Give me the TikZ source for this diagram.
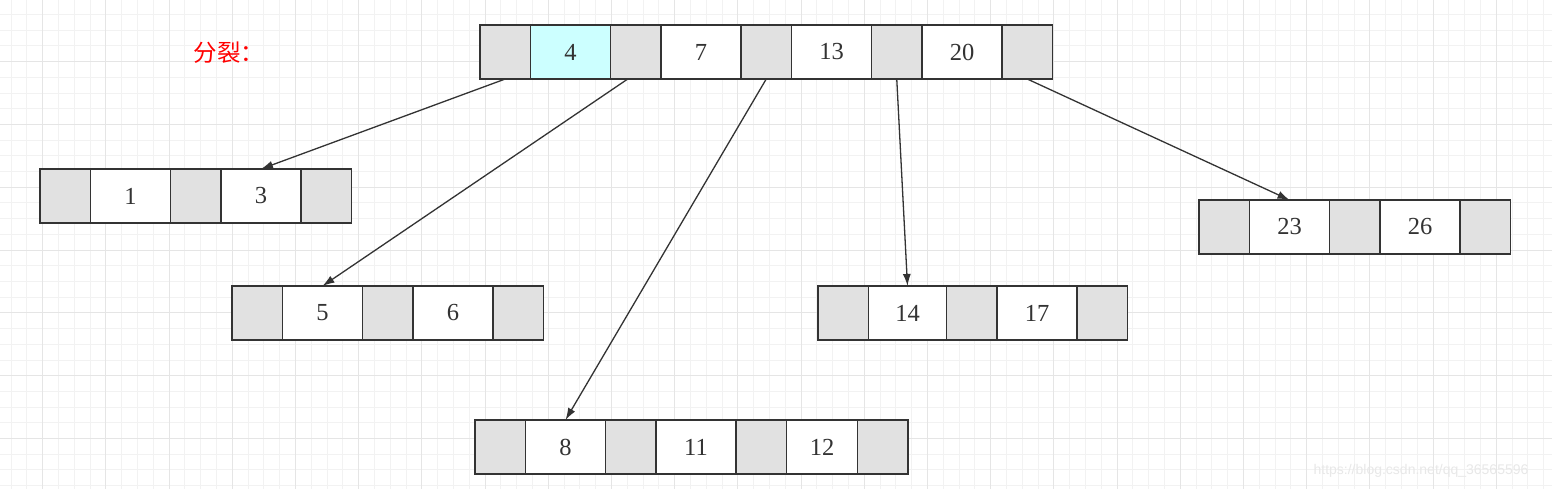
\documentclass[tikz,border=0pt]{standalone}
\usepackage{fontspec}
\setmainfont{Liberation Serif}
\newfontfamily\cjk{Noto Sans CJK SC}
\newfontfamily\wmfont{Liberation Sans}
\usetikzlibrary{positioning,arrows.meta}
\definecolor{edge}{HTML}{333333}
\definecolor{ptrgray}{HTML}{E1E1E1}
\definecolor{hilite}{HTML}{CCFFFF}
\tikzset{
  cell/.style={draw=edge, line width=1.5pt, rectangle, minimum height=54pt, inner sep=0pt, outer sep=0pt,
    font=\fontsize{24.5}{26}\selectfont, text=edge},
  ptr/.style={cell, fill=ptrgray, minimum width=50.5pt},
  key/.style={cell, fill=white, minimum width=80pt},
  child/.style={draw=edge, line width=1.3pt, -{Latex[length=12pt,width=8pt]}},
  gridminor/.style={draw=black!5, line width=1pt},
  gridmajor/.style={draw=black!10, line width=1pt}
}

\begin{document}
\begin{tikzpicture}[x=1pt, y=-1pt]
    \useasboundingbox (0,0) rectangle (1552,489);
    \begin{scope}
        \clip (0,0) rectangle (1552,489);
        \fill[white] (0,0) rectangle (1552,489);
        \foreach \k in {-3,...,96} \draw[gridminor] ({42.7+15.8*\k},0) -- ++(0,489);
        \foreach \k in {-4,...,28} \draw[gridminor] (0,{61.7+15.7*\k}) -- ++(1552,0);
        \foreach \k in {-1,...,24} \draw[gridmajor] ({42.7+63.2*\k},0) -- ++(0,489);
        \foreach \k in {-1,...,7} \draw[gridmajor] (0,{61.7+62.8*\k}) -- ++(1552,0);
    \end{scope}

    % label
    \node[text=red, font=\cjk\fontsize{23.5}{25}\selectfont] (lbl) at (229,53) {分裂：};

    % root after split
    \node[ptr, anchor=north west] (t0) at (480,25) {};
    \node[key, fill=hilite, right=0pt of t0] (t1) {4};
    \node[ptr, right=0pt of t1] (t2) {};
    \node[key, right=0pt of t2] (t3) {7};
    \node[ptr, right=0pt of t3] (t4) {};
    \node[key, right=0pt of t4] (t5) {13};
    \node[ptr, right=0pt of t5] (t6) {};
    \node[key, right=0pt of t6] (t7) {20};
    \node[ptr, right=0pt of t7] (t8) {};

    % children
    \node[ptr, anchor=north west] (a0) at (40,169) {};
    \node[key, right=0pt of a0] (a1) {1};
    \node[ptr, right=0pt of a1] (a2) {};
    \node[key, right=0pt of a2] (a3) {3};
    \node[ptr, right=0pt of a3] (a4) {};

    \node[ptr, anchor=north west] (b0) at (232,286) {};
    \node[key, right=0pt of b0] (b1) {5};
    \node[ptr, right=0pt of b1] (b2) {};
    \node[key, right=0pt of b2] (b3) {6};
    \node[ptr, right=0pt of b3] (b4) {};

    \node[ptr, anchor=north west] (c0) at (475,420) {};
    \node[key, right=0pt of c0] (c1) {8};
    \node[ptr, right=0pt of c1] (c2) {};
    \node[key, right=0pt of c2] (c3) {11};
    \node[ptr, right=0pt of c3] (c4) {};
    \node[key, minimum width=71pt, right=0pt of c4] (c5) {12};
    \node[ptr, right=0pt of c5] (c6) {};

    \node[ptr, anchor=north west] (d0) at (818,286) {};
    \node[key, minimum width=78pt, right=0pt of d0] (d1) {14};
    \node[ptr, right=0pt of d1] (d2) {};
    \node[key, right=0pt of d2] (d3) {17};
    \node[ptr, right=0pt of d3] (d4) {};

    \node[ptr, anchor=north west] (e0) at (1199,200) {};
    \node[key, right=0pt of e0] (e1) {23};
    \node[ptr, right=0pt of e1] (e2) {};
    \node[key, right=0pt of e2] (e3) {26};
    \node[ptr, right=0pt of e3] (e4) {};

    % pointers
    \draw[child] (t0.south) -- (a3.north);
    \draw[child] ([xshift=-8pt]t2.south) -- (b1.north);
    \draw[child] (t4.south) -- (c1.north);
    \draw[child] (t6.south) -- (d1.north);
    \draw[child] (t8.south) -- (e1.north);

    \node[text=black!9, font=\wmfont\fontsize{14}{16}\selectfont] (wm) at (1421,471) {https://blog.csdn.net/qq\_36565596};
\end{tikzpicture}
\end{document}
